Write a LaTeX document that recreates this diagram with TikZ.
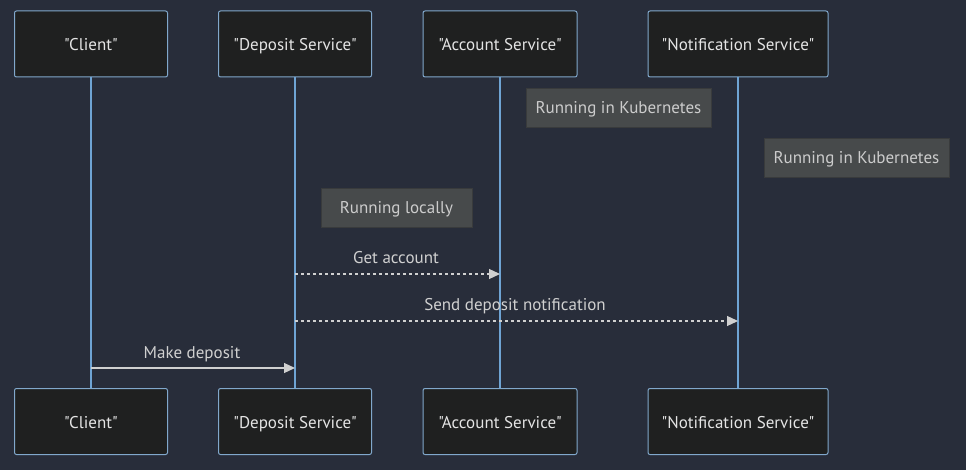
\documentclass[tikz,border=0pt]{standalone}
\usepackage{fontspec}
\setmainfont{PT Sans}[Ligatures=TeXOff]
\usetikzlibrary{arrows.meta}
\definecolor{bg}{HTML}{282D3A}
\definecolor{actfill}{HTML}{1F2020}
\definecolor{actline}{HTML}{81A8CC}
\definecolor{lifeline}{HTML}{6FA4D4}
\definecolor{notefill}{HTML}{474A4B}
\definecolor{notetext}{HTML}{CCCCCC}
\definecolor{msg}{HTML}{D0D0D0}
\definecolor{acttext}{HTML}{E4E4E4}
\begin{document}
\begin{tikzpicture}[x=1pt,y=-1pt,
  txt/.style={font=\fontsize{17}{19}\selectfont, text height=14pt, text depth=1pt},
  actor/.style={txt, draw=actline, fill=actfill, line width=1pt, rounded corners=2pt, minimum height=66pt, text=acttext, inner sep=0pt},
  note/.style={txt, fill=notefill, draw=notefill!80!black, minimum height=39pt, text=notetext, inner sep=0pt},
  life/.style={draw=lifeline, line width=2pt},
  msgline/.style={draw=msg, line width=1.2pt, -{Triangle[length=11pt,width=10pt]}},
  msglabel/.style={txt, text=msg}
]
\fill[bg] (0,0) rectangle (966,470);
\useasboundingbox (0,0) rectangle (966,470);
% actors top
\node[actor, minimum width=153pt] (c1) at (91,44) {"Client"};
\node[actor, minimum width=153pt] (d1) at (295,44) {"Deposit Service"};
\node[actor, minimum width=154pt] (a1) at (500,44) {"Account Service"};
\node[actor, minimum width=180pt] (n1) at (738,44) {"Notification Service"};
% actors bottom
\node[actor, minimum width=153pt] (c2) at (91,421.5) {"Client"};
\node[actor, minimum width=153pt] (d2) at (295,421.5) {"Deposit Service"};
\node[actor, minimum width=154pt] (a2) at (500,421.5) {"Account Service"};
\node[actor, minimum width=180pt] (n2) at (738,421.5) {"Notification Service"};
% lifelines
\draw[life] (c1.south) -- (c2.north);
\draw[life] (d1.south) -- (d2.north);
\draw[life] (a1.south) -- (a2.north);
\draw[life] (n1.south) -- (n2.north);
% notes
\node[note, minimum width=185pt] (k1) at (618.5,107.5) {Running in Kubernetes};
\node[note, minimum width=185pt] (k2) at (856.5,157.5) {Running in Kubernetes};
\node[note, minimum width=151pt] (l1) at (396.5,207.5) {Running locally};
% messages
\coordinate (m1s) at (295,274);
\coordinate (m1e) at (500,274);
\draw[msgline, dash pattern=on 3pt off 3pt] (m1s) -- (m1e);
\node[msglabel] (m1l) at (396,257) {Get account};
\coordinate (m2s) at (295,321);
\coordinate (m2e) at (738,321);
\draw[msgline, dash pattern=on 3pt off 3pt] (m2s) -- (m2e);
\node[msglabel] (m2l) at (515,304) {Send deposit notification};
\coordinate (m3s) at (91,368);
\coordinate (m3e) at (295,368);
\draw[msgline] (m3s) -- (m3e);
\node[msglabel] (m3l) at (192,352) {Make deposit};
\end{tikzpicture}
\end{document}
